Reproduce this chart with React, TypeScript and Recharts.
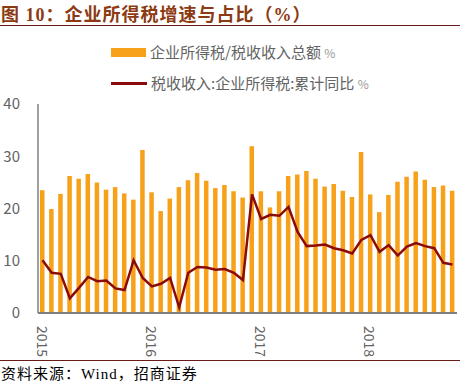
import {
  ComposedChart,
  Bar,
  Line,
  XAxis,
  YAxis,
  Legend,
} from "recharts";

// monthly, 2015-01 .. 2018-10
const months = [
  "2015-01", "2015-02", "2015-03", "2015-04", "2015-05", "2015-06",
  "2015-07", "2015-08", "2015-09", "2015-10", "2015-11", "2015-12",
  "2016-01", "2016-02", "2016-03", "2016-04", "2016-05", "2016-06",
  "2016-07", "2016-08", "2016-09", "2016-10", "2016-11", "2016-12",
  "2017-01", "2017-02", "2017-03", "2017-04", "2017-05", "2017-06",
  "2017-07", "2017-08", "2017-09", "2017-10", "2017-11", "2017-12",
  "2018-01", "2018-02", "2018-03", "2018-04", "2018-05", "2018-06",
  "2018-07", "2018-08", "2018-09", "2018-10",
];

// 企业所得税/税收收入总额 %
const shareValues = [
  23.5, 19.9, 22.8, 26.2, 25.7, 26.6, 25.0, 23.6, 24.1, 22.9, 21.7, 31.2,
  23.1, 19.5, 21.9, 24.1, 25.4, 26.8, 25.3, 23.9, 24.5, 23.3, 22.1, 31.9,
  23.3, 20.2, 23.3, 26.2, 26.5, 27.2, 25.7, 24.2, 24.7, 23.4, 22.2, 30.8,
  22.7, 19.3, 22.6, 25.1, 26.1, 27.1, 25.5, 24.1, 24.4, 23.4,
];

// 税收收入:企业所得税:累计同比 %
const growthValues = [
  10.1, 7.7, 7.5, 2.8, 4.8, 6.9, 6.1, 6.2, 4.7, 4.4, 10.1, 6.7,
  5.1, 5.6, 6.7, 1.1, 7.7, 8.8, 8.7, 8.3, 8.4, 7.7, 6.3, 22.7,
  18.0, 18.8, 18.6, 20.3, 15.5, 12.8, 12.9, 13.1, 12.4, 12.0, 11.4, 14.0,
  14.9, 11.7, 13.0, 11.0, 12.7, 13.4, 12.8, 12.4, 9.6, 9.3,
];

const yTicks = [0, 10, 20, 30, 40];
const yearTicks = ["2015-01", "2016-01", "2017-01", "2018-01"];

const data = months.map((m, i) => ({
  month: m,
  share: shareValues[i],
  growth: growthValues[i],
}));

const BAR = "#F7A11A";
const LINE = "#8B0A0A";
const GREY = "#636363";
const SANS = "'Noto Sans CJK SC', 'Noto Sans', sans-serif";
const SERIF = "'Liberation Serif', 'Noto Sans CJK SC', serif";

function YearTick(props: any) {
  const { x, y, payload } = props;
  return (
    <text
      transform={`translate(${x},${y}) rotate(90)`}
      x={0}
      y={0}
      textAnchor="start"
      dominantBaseline="central"
      fill={GREY}
      fontSize={14}
      fontFamily={SANS}
    >
      {String(payload.value).slice(0, 4)}
    </text>
  );
}

function LegendBox() {
  const rowText = { fontSize: 15, color: GREY, fontFamily: SANS, lineHeight: "18px" };
  return (
    <div style={{ display: "flex", flexDirection: "column", gap: 12 }}>
      <div style={{ display: "flex", alignItems: "center", gap: 4 }}>
        <div style={{ width: 35, height: 9, background: BAR }} />
        <span style={rowText}>
          企业所得税/税收收入总额 <span style={{ fontSize: 12, color: "#999" }}>%</span>
        </span>
      </div>
      <div style={{ display: "flex", alignItems: "center", gap: 4 }}>
        <div style={{ width: 36, height: 3, background: LINE }} />
        <span style={rowText}>
          税收收入:企业所得税:累计同比 <span style={{ fontSize: 12, color: "#999" }}>%</span>
        </span>
      </div>
    </div>
  );
}

export default function App() {
  return (
    <div
      style={{
        position: "absolute",
        left: 0,
        top: 0,
        width: 460,
        height: 382,
        background: "#fff",
        overflow: "hidden",
      }}
    >
      <div
        style={{
          position: "absolute",
          left: 1,
          top: 0,
          fontFamily: SERIF,
          fontWeight: "bold",
          fontSize: 18,
          letterSpacing: 1,
          color: "#8C3A12",
          whiteSpace: "nowrap",
        }}
      >
        图 10：企业所得税增速与占比（%）
      </div>
      <div
        style={{
          position: "absolute",
          left: 0,
          top: 25,
          width: 460,
          height: 1,
          background: "#6B1A1A",
        }}
      />

      <div style={{ position: "absolute", left: 0, top: 0 }}>
        <ComposedChart
          width={460}
          height={382}
          data={data}
          margin={{ top: 54, right: 3, bottom: 24, left: 0 }}
          barCategoryGap={0}
        >
          <XAxis
            dataKey="month"
            ticks={yearTicks}
            interval={0}
            tick={<YearTick />}
            tickLine={false}
            axisLine={{ stroke: "#7F7F7F", strokeWidth: 2 }}
            height={45}
            tickMargin={7}
          />
          <YAxis
            domain={[0, 40]}
            ticks={yTicks}
            width={38}
            tickLine={false}
            tickSize={0}
            tickMargin={18}
            axisLine={{ stroke: "#7F7F7F", strokeWidth: 1.5 }}
            tick={{ fill: GREY, fontSize: 15, fontFamily: SANS }}
          />
          <Legend
            verticalAlign="top"
            align="left"
            content={() => <LegendBox />}
            wrapperStyle={{ position: "absolute", left: 111, top: 43, width: 340 }}
          />
          <Bar
            dataKey="share"
            fill={BAR}
            barSize={4.5}
            isAnimationActive={false}
          />
          <Line
            dataKey="growth"
            type="linear"
            stroke={LINE}
            strokeWidth={2.5}
            dot={false}
            isAnimationActive={false}
          />
        </ComposedChart>
      </div>

      <div
        style={{
          position: "absolute",
          left: 0,
          top: 360,
          width: 460,
          height: 1,
          background: "#6B1A1A",
        }}
      />
      <div
        style={{
          position: "absolute",
          left: 1,
          top: 362,
          fontFamily: SERIF,
          fontSize: 15,
          letterSpacing: 1,
          color: "#000",
          whiteSpace: "nowrap",
        }}
      >
        资料来源：Wind，招商证券
      </div>
    </div>
  );
}
